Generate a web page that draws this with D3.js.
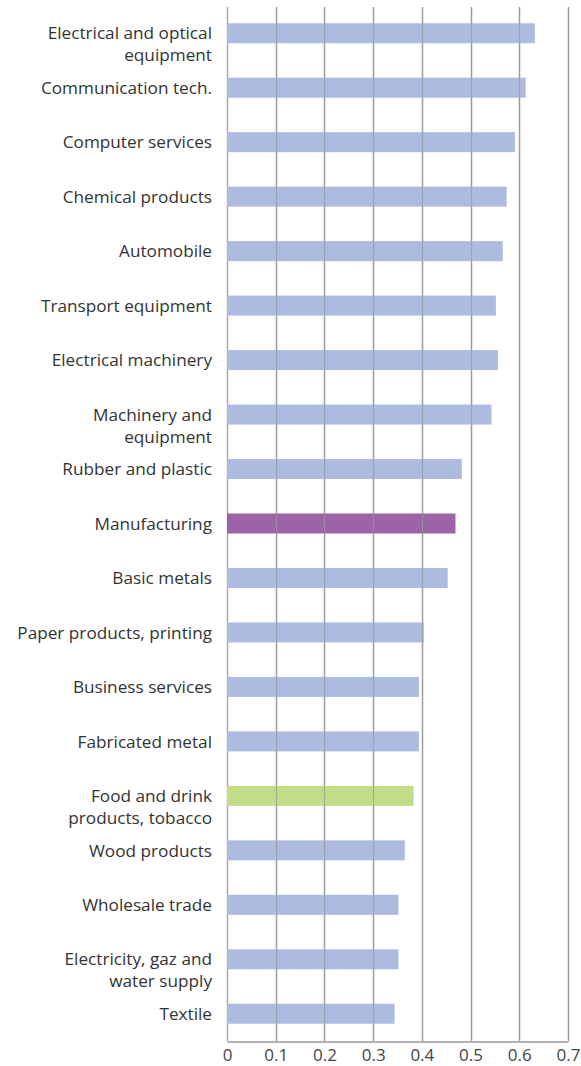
<!DOCTYPE html>
<html>
<head>
<meta charset="utf-8">
<script src="https://cdn.jsdelivr.net/npm/d3@7"></script>
<style>
  html, body { margin: 0; padding: 0; background: #fff; }
  svg { display: block; }
</style>
</head>
<body>
<svg id="chart" width="581" height="1066"></svg>
<script>
// Sector names (line breaks mark wrapped labels)
const categories = [
  "Electrical and optical\nequipment",
  "Communication tech.",
  "Computer services",
  "Chemical products",
  "Automobile",
  "Transport equipment",
  "Electrical machinery",
  "Machinery and\nequipment",
  "Rubber and plastic",
  "Manufacturing",
  "Basic metals",
  "Paper products, printing",
  "Business services",
  "Fabricated metal",
  "Food and drink\nproducts, tobacco",
  "Wood products",
  "Wholesale trade",
  "Electricity, gaz and\nwater supply",
  "Textile"
];

const values = [
  0.632, 0.613, 0.591, 0.574, 0.566, 0.552, 0.556, 0.543, 0.482, 0.469,
  0.453, 0.404, 0.394, 0.394, 0.383, 0.365, 0.352, 0.352, 0.344
];

// Group of each bar: sector, the manufacturing total, and the food industry
const groups = [
  "sector", "sector", "sector", "sector", "sector", "sector", "sector", "sector", "sector", "total",
  "sector", "sector", "sector", "sector", "food", "sector", "sector", "sector", "sector"
];

const tickValues = [0, 0.1, 0.2, 0.3, 0.4, 0.5, 0.6, 0.7];
const tickLabels = ["0", "0.1", "0.2", "0.3", "0.4", "0.5", "0.6", "0.7"];

const groupColor = { sector: "#aebbe0", total: "#9d63a8", food: "#c3dc88" };

const svg = d3.select("#chart");
const margin = { top: 6, right: 13, bottom: 25, left: 227 };
const W = 581, H = 1066;

const x = d3.scaleLinear()
  .domain([0, 0.7])
  .range([margin.left, W - margin.right]);

const step = (H - margin.bottom - margin.top) / categories.length;
const inner = 1 - 20 / step;
const y = d3.scaleBand()
  .domain(categories)
  .range([margin.top, H - margin.bottom])
  .paddingInner(inner)
  .paddingOuter(inner / 2);

const data = categories.map((c, i) => ({ name: c, value: values[i], group: groups[i] }));

// Vertical gridlines
svg.append("g")
  .selectAll("line")
  .data(tickValues)
  .join("line")
  .attr("x1", d => Math.round(x(d)) + 0.5)
  .attr("x2", d => Math.round(x(d)) + 0.5)
  .attr("y1", margin.top + 1)
  .attr("y2", H - margin.bottom)
  .attr("stroke", "#a6a6a6")
  .attr("stroke-width", 1.4);

// Bars
svg.append("g")
  .selectAll("rect")
  .data(data)
  .join("rect")
  .attr("x", x(0))
  .attr("y", d => y(d.name))
  .attr("width", d => x(d.value) - x(0))
  .attr("height", y.bandwidth())
  .attr("fill", d => groupColor[d.group]);

// Gridlines drawn over the bars, as in the original chart
svg.append("g")
  .selectAll("line")
  .data(tickValues.slice(1))
  .join("line")
  .attr("x1", d => Math.round(x(d)) + 0.5)
  .attr("x2", d => Math.round(x(d)) + 0.5)
  .attr("y1", margin.top + 1)
  .attr("y2", H - margin.bottom)
  .attr("stroke", "#9a9a9a")
  .attr("stroke-opacity", 0.7)
  .attr("stroke-width", 1.2);

// Category labels: first line centred on the bar, extra lines below it
const labels = svg.append("g")
  .attr("font-family", "'Open Sans', sans-serif")
  .attr("font-size", 17.2)
  .attr("fill", "#333")
  .attr("text-anchor", "end")
  .selectAll("text")
  .data(data)
  .join("text")
  .attr("x", margin.left - 15)
  .attr("y", d => y(d.name) + y.bandwidth() / 2);

labels.selectAll("tspan")
  .data(d => d.name.split("\n"))
  .join("tspan")
  .attr("x", margin.left - 15)
  .attr("dy", (d, i) => i === 0 ? "0.36em" : 22)
  .text(d => d);

// Bottom axis
const xAxis = d3.axisBottom(x)
  .tickValues(tickValues)
  .tickFormat((d, i) => tickLabels[i])
  .tickSize(0)
  .tickPadding(7);

const ax = svg.append("g")
  .attr("transform", `translate(0,${H - margin.bottom + 0.5})`)
  .call(xAxis);

ax.select(".domain")
  .attr("stroke", "#999")
  .attr("stroke-width", 1.4);

ax.selectAll("text")
  .attr("font-family", "'Open Sans', sans-serif")
  .attr("font-size", 17)
  .attr("fill", "#444");
</script>
</body>
</html>
